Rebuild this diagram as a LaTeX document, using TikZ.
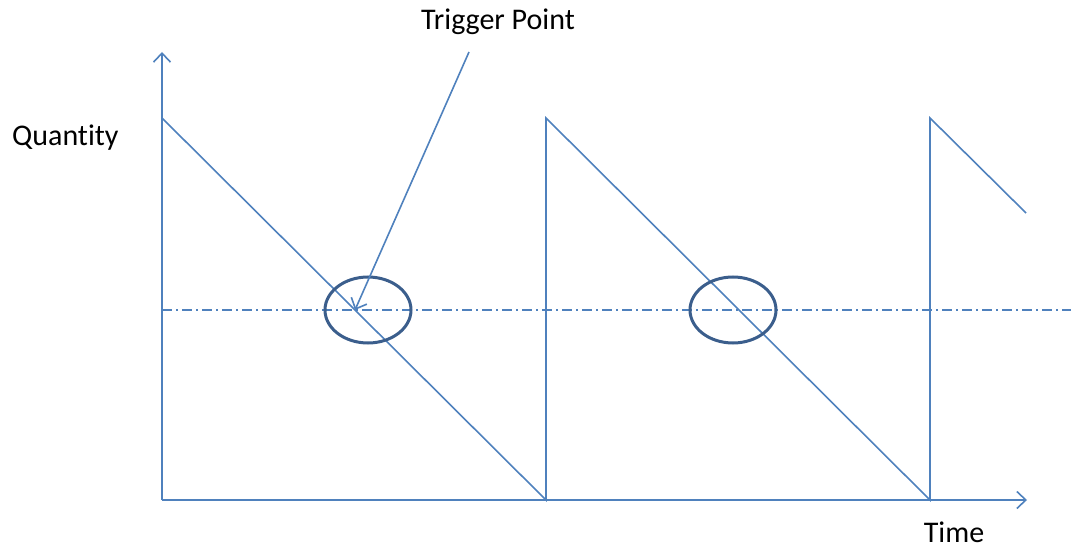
\documentclass[tikz,border=0pt]{standalone}
\usepackage{fontspec}
\setmainfont{Carlito}[Ligatures=NoCommon]
\usepackage{tikz}
\usetikzlibrary{shapes.geometric, arrows.meta, positioning}

\definecolor{lineblue}{HTML}{4F81BD}
\definecolor{ringblue}{HTML}{3B5E8C}

\tikzset{
    axis/.style={draw=lineblue, line width=1.6pt, -{Straight Barb[length=9pt, width=17pt, line width=1.6pt]}},
    saw/.style={draw=lineblue, line width=1.6pt, line join=miter},
    level/.style={draw=lineblue, line width=1.2pt, dash pattern=on 10pt off 4pt on 2pt off 4pt},
    ring/.style={ellipse, draw=ringblue, line width=3pt, minimum width=86pt, minimum height=66pt, inner sep=0pt},
    lbl/.style={font=\fontsize{30}{36}\selectfont, text=black, inner sep=0pt}
}

\begin{document}
\begin{tikzpicture}[x=1pt, y=-1pt]
\useasboundingbox (0,0) rectangle (1071,548);
\coordinate (origin) at (162,500);
\coordinate (ytop) at (162,52);
\coordinate (xend) at (1027,500);
\coordinate (levelL) at (162,310);
\coordinate (levelR) at (1071,310);
\coordinate (trig) at (355,310);
\coordinate (tail) at (469,52);

\draw[level] (levelL) -- (levelR);
\draw[saw] (162,118) -- (546,500) -- (546,118) -- (930,500) -- (930,118) -- (1026,213);
\draw[axis] (origin) -- (ytop);
\draw[axis] (origin) -- (xend);

\foreach \cx [count=\i] in {368,733} {
    \node[ring] (ring\i) at (\cx,310) {};
}

\node[lbl] (trigLbl) at (498,22) {Trigger Point};
\node[lbl, anchor=west] (qty) at (12,138) {Quantity};
\node[lbl] (time) at (954,532) {Time};

\draw[axis] (tail) -- (trig);
\end{tikzpicture}
\end{document}
